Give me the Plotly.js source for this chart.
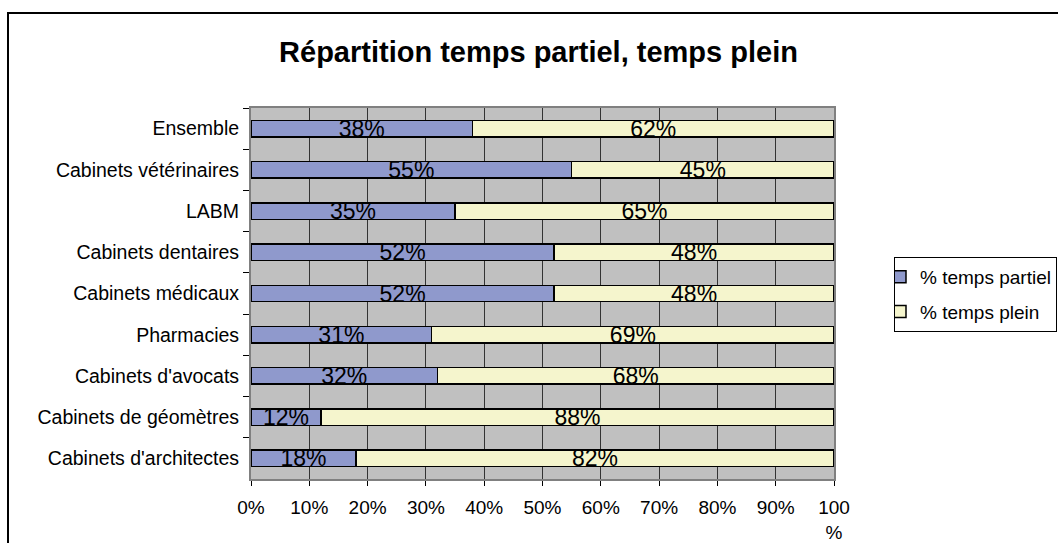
<!DOCTYPE html>
<html>
<head>
<meta charset="utf-8">
<script src="https://cdn.plot.ly/plotly-3.0.1.min.js"></script>
<style>
html, body { margin: 0; padding: 0; background: #fff; overflow: hidden; }
#chart { width: 1058px; height: 543px; }
</style>
</head>
<body>
<div id="chart"></div>
<script>
// Data (top to bottom order as displayed)
const categories = [
  "Ensemble",
  "Cabinets vétérinaires",
  "LABM",
  "Cabinets dentaires",
  "Cabinets médicaux",
  "Pharmacies",
  "Cabinets d'avocats",
  "Cabinets de géomètres",
  "Cabinets d'architectes"
];
const tempsPartiel = [38, 55, 35, 52, 52, 31, 32, 12, 18];
const tempsPlein   = [62, 45, 65, 48, 48, 69, 68, 88, 82];
const seriesNames = ["% temps partiel", "% temps plein"];
const tickValues = [0, 10, 20, 30, 40, 50, 60, 70, 80, 90, 100];
const tickLabels = ["0%", "10%", "20%", "30%", "40%", "50%", "60%", "70%", "80%", "90%", "100<br>%"];
const chartTitle = "Répartition temps partiel, temps plein";

const FONT = '"Liberation Sans", Arial, sans-serif';

function barTrace(name, values, color, group) {
  return {
    type: 'bar',
    orientation: 'h',
    name: name,
    x: values,
    y: categories,
    legendgroup: group,
    marker: { color: color, line: { color: '#000000', width: 1.5 } },
    texttemplate: '%{x}%',
    textposition: 'inside',
    insidetextanchor: 'middle',
    constraintext: 'none',
    textangle: 0,
    textfont: { family: FONT, size: 23, color: '#000000' },
    hoverinfo: 'skip'
  };
}

const traces = [
  barTrace(seriesNames[0], tempsPartiel, '#8f99cc', 'a'),
  barTrace(seriesNames[1], tempsPlein, '#f5f5cd', 'b')
];

// plot area in pixels: x 251..834, y 108..479
const L = 251, R = 834, T = 108, B = 479, W = 1058, H = 543;
const px2x = p => (p - L) / (R - L);
const px2y = p => (B - p) / (B - T);

const layout = {
  width: W,
  height: H,
  margin: { l: L, r: W - R, t: T, b: H - B, autoexpand: false },
  paper_bgcolor: '#ffffff',
  plot_bgcolor: '#c0c0c0',
  font: { family: FONT, color: '#000000' },
  barmode: 'stack',
  bargap: 0.6,
  showlegend: true,
  title: {
    text: '<b>' + chartTitle + '</b>',
    font: { family: FONT, size: 29, color: '#000000' },
    xref: 'container', x: 538.5 / W, xanchor: 'center',
    yref: 'container', y: 1 - 52 / H, yanchor: 'middle'
  },
  xaxis: {
    range: [0, 100],
    tickmode: 'array',
    tickvals: tickValues,
    ticktext: tickLabels,
    tickfont: { family: FONT, size: 19, color: '#000000' },
    ticks: 'outside',
    ticklen: 5,
    tickcolor: '#000000',
    tickwidth: 1,
    ticklabelstandoff: 5,
    showgrid: true,
    gridcolor: '#333333',
    gridwidth: 1,
    zeroline: false,
    showline: true,
    linecolor: '#808080',
    linewidth: 2,
    mirror: true,
    fixedrange: true
  },
  yaxis: {
    type: 'category',
    autorange: 'reversed',
    tickfont: { family: FONT, size: 19.5, color: '#000000' },
    ticks: 'outside',
    tickson: 'boundaries',
    ticklen: 6,
    tickcolor: '#000000',
    tickwidth: 1,
    ticklabelstandoff: 6,
    showgrid: false,
    zeroline: false,
    showline: true,
    linecolor: '#808080',
    linewidth: 2,
    mirror: true,
    fixedrange: true
  },
  legend: {
    x: px2x(894), xanchor: 'left',
    y: px2y(257), yanchor: 'top',
    bgcolor: '#ffffff',
    bordercolor: '#000000',
    borderwidth: 1,
    font: { family: FONT, size: 19, color: '#000000' },
    traceorder: 'grouped',
    tracegroupgap: 7,
    indentation: -15
  },
  shapes: [{
    type: 'rect',
    xref: 'paper', yref: 'paper',
    x0: px2x(8), x1: px2x(1080),
    y0: px2y(570), y1: px2y(13),
    line: { color: '#000000', width: 2 },
    fillcolor: 'rgba(0,0,0,0)',
    layer: 'below'
  }]
};

Plotly.newPlot('chart', traces, layout, { displayModeBar: false, staticPlot: true });
</script>
</body>
</html>
